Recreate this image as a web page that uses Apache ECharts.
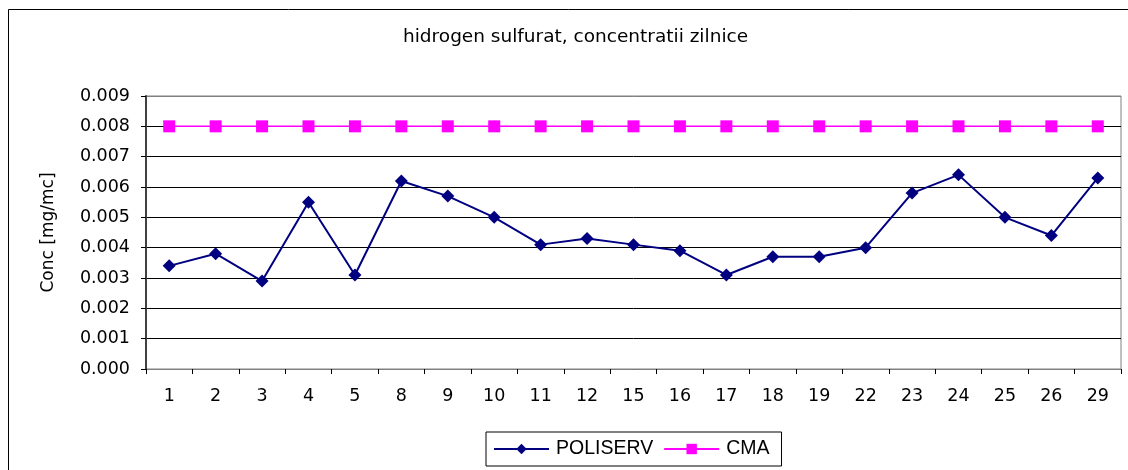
<!DOCTYPE html>
<html>
<head>
<meta charset="utf-8">
<script src="https://cdn.jsdelivr.net/npm/echarts@6/dist/echarts.min.js"></script>
<style>
html,body{margin:0;padding:0;background:#fff;}
#c{width:1128px;height:470px;}
</style>
</head>
<body>
<div id="c"></div>
<script>
var categories = ['1','2','3','4','5','8','9','10','11','12','15','16','17','18','19','22','23','24','25','26','29'];
var poliserv = [0.0034,0.0038,0.0029,0.0055,0.0031,0.0062,0.0057,0.0050,0.0041,0.0043,0.0041,0.0039,0.0031,0.0037,0.0037,0.0040,0.0058,0.0064,0.0050,0.0044,0.0063];
var cma = [0.008,0.008,0.008,0.008,0.008,0.008,0.008,0.008,0.008,0.008,0.008,0.008,0.008,0.008,0.008,0.008,0.008,0.008,0.008,0.008,0.008];
var titleText = 'hidrogen sulfurat, concentratii zilnice';
var yName = 'Conc [mg/mc]';

var FONT = '"Liberation Sans", Arial, sans-serif';
var WIDE = '"DejaVu Sans", sans-serif';
var chart = echarts.init(document.getElementById('c'), null, {renderer:'canvas'});
chart.setOption({
  animation:false,
  backgroundColor:'#fff',
  graphic:[{type:'rect', shape:{x:8.5,y:9.5,width:1200,height:600}, style:{fill:'none',stroke:'#000',lineWidth:1}, silent:true, z:-1}],
  title:{text:titleText, left:398, top:23, textStyle:{fontFamily:WIDE, fontSize:18.5, fontWeight:'normal', color:'#000'}},
  grid:{left:146, right:7, top:96, bottom:101, show:true, borderColor:'#808080', borderWidth:1},
  legend:{
    left:486, top:432, padding:[7,12,7,7], itemGap:10, itemWidth:55, itemHeight:13,
    borderColor:'#000', borderWidth:1,
    textStyle:{fontFamily:FONT, fontSize:19.5, color:'#000', padding:[0,0,0,2]},
    data:['POLISERV','CMA']
  },
  xAxis:{
    type:'category', data:categories, boundaryGap:true,
    axisLine:{lineStyle:{color:'#808080', width:1}},
    axisTick:{show:true, length:5, lineStyle:{color:'#000'}},
    axisLabel:{color:'#000', fontFamily:WIDE, fontSize:17.5, margin:18},
    splitLine:{show:false}
  },
  yAxis:{
    type:'value', min:0, max:0.009, interval:0.001,
    name:yName, nameLocation:'middle', nameGap:89, nameRotate:90,
    nameTextStyle:{fontFamily:WIDE, fontSize:17, color:'#000'},
    axisLine:{show:true, lineStyle:{color:'#404040', width:2}},
    axisTick:{show:true, length:5, inside:false, lineStyle:{color:'#000'}},
    axisLabel:{color:'#000', fontFamily:WIDE, fontSize:17.5, margin:16, formatter:function(v){return v.toFixed(3);}},
    splitLine:{show:true, lineStyle:{color:['#000','#000','#000','#000','#000','#000','#000','#000','#000','#808080'], width:1}}
  },
  series:[
    {name:'POLISERV', type:'line', data:poliserv, symbol:'diamond', symbolSize:13,
     itemStyle:{color:'#000080'}, lineStyle:{color:'#000080', width:2}, z:3},
    {name:'CMA', type:'line', data:cma, symbol:'rect', symbolSize:12,
     itemStyle:{color:'#FF00FF'}, lineStyle:{color:'#FF00FF', width:1.5}, z:2}
  ]
});
</script>
</body>
</html>
